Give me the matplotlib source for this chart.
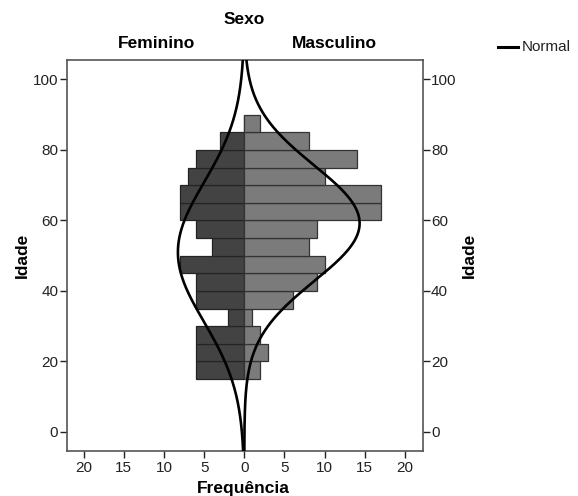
import numpy as np
import matplotlib.pyplot as plt
from matplotlib.lines import Line2D

plt.rcParams['font.family'] = ['Liberation Sans', 'DejaVu Sans']

# lower edges of the 5-year age bins
bin_starts = [15, 20, 25, 30, 35, 40, 45, 50, 55, 60, 65, 70, 75, 80, 85]
feminino = [6, 6, 6, 2, 6, 6, 8, 4, 6, 8, 8, 7, 6, 3, 0]
masculino = [2, 3, 2, 1, 6, 9, 10, 8, 9, 17, 17, 10, 14, 8, 2]
bin_width = 5

# normal curve parameters (mean, sd) per group
fem_mean, fem_sd = 51.0, 19.8
masc_mean, masc_sd = 59.2, 16.4

x_ticks = [-20, -15, -10, -5, 0, 5, 10, 15, 20]
y_ticks = [0, 20, 40, 60, 80, 100]

W, H = 578, 496
fig = plt.figure(figsize=(W / 100, H / 100), dpi=100)
ax = fig.add_axes([0.1154, 0.0907, 0.6159, 0.7883])

ax.barh(bin_starts, [-v for v in feminino], height=bin_width, align='edge',
        color='#434343', edgecolor='#242424', linewidth=0.9, zorder=2)
ax.barh(bin_starts, masculino, height=bin_width, align='edge',
        color='#7b7b7b', edgecolor='#333333', linewidth=0.9, zorder=2)

ages = np.linspace(-6, 106, 400)
def normal_counts(n, mu, sd):
    return n * bin_width / (sd * np.sqrt(2 * np.pi)) * np.exp(-0.5 * ((ages - mu) / sd) ** 2)

ax.plot(-normal_counts(sum(feminino), fem_mean, fem_sd), ages, color='black', lw=1.9, zorder=3)
ax.plot(normal_counts(sum(masculino), masc_mean, masc_sd), ages, color='black', lw=1.9, zorder=3)

ax.set_xlim(-22.1, 22.2)
ax.set_ylim(-5.4, 105.5)
ax.set_xticks(x_ticks)
ax.set_xticklabels([str(abs(t)) for t in x_ticks])
ax.set_yticks(y_ticks)
ax.tick_params(axis='both', labelsize=11, colors='#222222', length=5, width=1, direction='out')
ax.tick_params(axis='y', right=True, labelright=True, pad=1)
ax.tick_params(axis='x', pad=2)
for s in ax.spines.values():
    s.set_color('#555555')
    s.set_linewidth(1.2)

def ftext(x, y, s, **kw):
    fig.text(x / W, 1 - y / H, s, ha='center', va='center', **kw)

ftext(243, 488, 'Frequência', fontsize=12.5, fontweight='bold')
ftext(22, 255, 'Idade', fontsize=12.5, fontweight='bold', rotation=90)
ftext(469, 255, 'Idade', fontsize=12.5, fontweight='bold', rotation=90)
ftext(244, 20, 'Sexo', fontsize=12.5, fontweight='bold')
ftext(156, 43, 'Feminino', fontsize=12.5, fontweight='bold')
ftext(334, 43, 'Masculino', fontsize=12.5, fontweight='bold')

# legend
fig.add_artist(Line2D([498 / W, 518 / W], [1 - 47 / H] * 2, color='black', lw=2.2,
                      transform=fig.transFigure))
fig.text(522 / W, 1 - 47 / H, 'Normal', fontsize=11, ha='left', va='center', color='#222222')

fig.savefig('out.png', dpi=100)
